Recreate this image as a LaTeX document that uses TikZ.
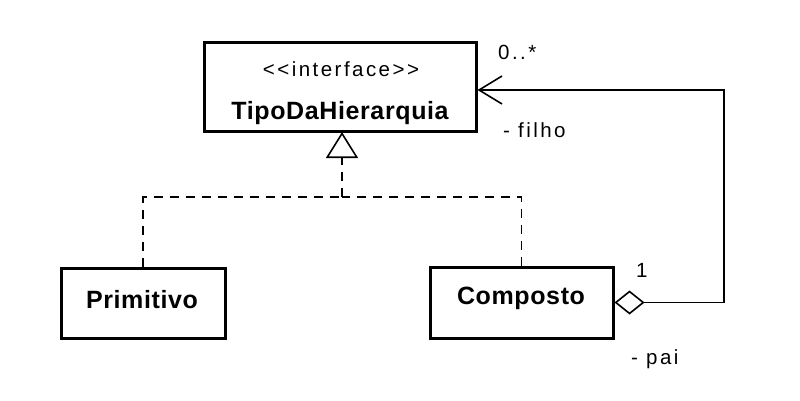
\documentclass[tikz,border=0pt]{standalone}
\usepackage{fontspec}
\setmainfont{Liberation Sans}
\newfontfamily\regf[LetterSpace=12]{Liberation Sans}
\newfontfamily\boldf[LetterSpace=2.5]{Liberation Sans Bold}
\usetikzlibrary{arrows.meta}
\begin{document}
\begin{tikzpicture}[x=1pt,y=-1pt,
  classbox/.style={draw,line width=3pt,inner sep=0pt},
  bold/.style={font=\boldf\fontsize{25}{30}\selectfont,inner sep=0pt,anchor=base},
  reg/.style={font=\regf\fontsize{20.5}{24}\selectfont,inner sep=0pt,anchor=base},
  reglbl/.style={font=\regf\fontsize{20.5}{24}\selectfont,inner sep=0pt,anchor=base west},
  realiz/.style={line width=1.6pt,dash pattern=on 9pt off 7pt},
  gen/.style={line width=1.6pt,-{Triangle[open,length=26pt,width=32pt,line width=1.6pt]}},
  assoc/.style={line width=1.6pt,{Diamond[open,length=30pt,width=24pt,line width=1.6pt]}-{Straight Barb[length=23pt,width=28pt,line width=1.6pt]}}
]
\useasboundingbox (0,0) rectangle (800,401);
\fill[white] (0,0) rectangle (800,401);
% boxes
\node[classbox,minimum width=272pt,minimum height=89pt] (iface) at (340,87.5) {};
\node[classbox,minimum width=164pt,minimum height=70pt] (prim) at (143,303) {};
\node[classbox,minimum width=183pt,minimum height=71pt] (comp) at (521.5,302.5) {};
% texts
\node[reg] (stereo) at (341,77) {<<interface>>};
\node[bold] (ifname) at (340,120) {TipoDaHierarquia};
\node[bold] (primname) at (142,308) {Primitivo};
\node[bold] (compname) at (521,304) {Composto};
% realization
\coordinate (jn) at (342,197);
\coordinate (gtop) at (342,132);
\draw[realiz] (prim.north) |- (jn);
\draw[realiz] (comp.north) |- (jn);
\draw[realiz,gen] (jn) -- (gtop);
% association
\coordinate (crn) at (724,302.5);
\coordinate (ie) at ([yshift=-2.5pt]iface.east);
\draw[assoc] (comp.east) -- (crn) |- (ie);
% labels
\node[reglbl] (mult1) at (498,60) {0..*};
\node[reglbl] (role1) at (503,138) {- filho};
\node[reglbl] (mult2) at (636,277) {1};
\node[reglbl] (role2) at (631,364) {- pai};
\end{tikzpicture}
\end{document}
